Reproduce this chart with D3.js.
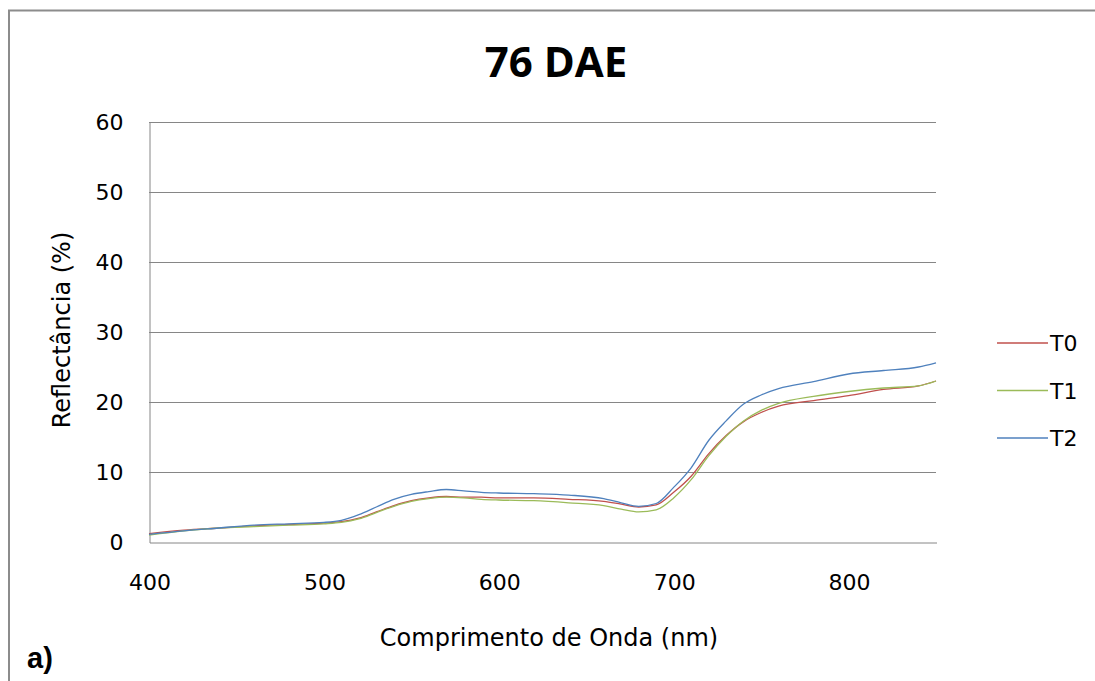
<!DOCTYPE html>
<html><head><meta charset="utf-8">
<script src="https://cdn.jsdelivr.net/npm/d3@7"></script>
<style>body{margin:0;background:#fff;} svg{display:block;}</style>
</head><body>
<svg id="c" width="1095" height="681"></svg>
<script>
const wavelengths = [400,420,440,460,480,500,510,520,530,540,550,560,570,580,590,600,620,640,660,670,680,690,700,710,720,730,740,750,760,780,800,820,840,850];
const t0 = [1.2,1.7,2.0,2.3,2.5,2.7,2.9,3.4,4.3,5.2,5.9,6.3,6.5,6.4,6.4,6.3,6.3,6.1,5.8,5.4,5.0,5.3,7.1,9.4,12.6,15.2,17.2,18.5,19.4,20.2,20.9,21.8,22.3,23.0];
const t1 = [1.0,1.6,2.0,2.2,2.4,2.6,2.8,3.3,4.2,5.1,5.8,6.2,6.4,6.3,6.1,6.0,5.9,5.6,5.2,4.7,4.3,4.6,6.3,8.9,12.3,15.1,17.3,18.8,19.8,20.8,21.5,22.0,22.3,23.0];
const t2 = [1.1,1.6,2.0,2.4,2.6,2.8,3.1,3.9,5.0,6.1,6.8,7.2,7.5,7.3,7.1,7.0,6.9,6.7,6.2,5.6,5.1,5.5,7.8,10.6,14.5,17.3,19.7,21.0,21.9,22.9,24.0,24.5,25.0,25.6];
const seriesNames = ["T0","T1","T2"];
const seriesColors = ["#C0504D","#9BBB59","#4F81BD"];
const xTicks = [400,500,600,700,800];
const yTicks = [0,10,20,30,40,50,60];
const title = "76 DAE";
const xTitle = "Comprimento de Onda (nm)";
const yTitle = "Reflectância (%)";

const svg = d3.select("#c");
const L=149, R=936, T=122, B=542;
const x = d3.scaleLinear().domain([400,850]).range([L,R]);
const y = d3.scaleLinear().domain([0,60]).range([B,T]);
const gray = "#868686";
const font = "'DejaVu Sans', sans-serif";

// outer frame
svg.append("path").attr("d","M9,681 V10.5 H1095").attr("fill","none").attr("stroke","#8c8c8c").attr("stroke-width",2);

// gridlines
svg.append("g").selectAll("line").data(yTicks.filter(d=>d>0)).join("line")
  .attr("x1",L).attr("x2",R).attr("y1",d=>y(d)+0.5).attr("y2",d=>y(d)+0.5)
  .attr("stroke",gray).attr("stroke-width",1);

// y axis
const ya = svg.append("g").attr("transform",`translate(${L+0.5},0.5)`)
  .call(d3.axisLeft(y).tickValues(yTicks).tickSize(0).tickPadding(26));
ya.select(".domain").attr("stroke",gray);
ya.selectAll("text").attr("font-family",font).attr("font-size",22).attr("fill","#000");

// x axis
const xa = svg.append("g").attr("transform",`translate(0.5,${B+0.5})`)
  .call(d3.axisBottom(x).tickValues(xTicks).tickSize(0).tickPadding(32));
xa.select(".domain").attr("stroke",gray);
xa.selectAll("text").attr("font-family",font).attr("font-size",22).attr("fill","#000");

// lines
const data = [t0,t1,t2];
const line = d3.line().x((d,i)=>x(wavelengths[i])).y(d=>y(d)).curve(d3.curveMonotoneX);
svg.append("g").selectAll("path").data(data).join("path")
  .attr("d",line).attr("fill","none")
  .attr("stroke",(d,i)=>seriesColors[i]).attr("stroke-width",1.3);

// title
svg.append("text").attr("x",556).attr("y",77).attr("text-anchor","middle")
  .attr("font-family","'Open Sans', sans-serif").attr("font-weight","bold").attr("font-size",42).text(title);

// axis titles
svg.append("text").attr("x",549).attr("y",646).attr("text-anchor","middle")
  .attr("font-family",font).attr("font-size",24).text(xTitle);
svg.append("text").attr("transform","translate(70,330) rotate(-90)").attr("text-anchor","middle")
  .attr("font-family",font).attr("font-size",24).text(yTitle);

// legend
const lg = svg.append("g").selectAll("g").data(seriesNames).join("g")
  .attr("transform",(d,i)=>`translate(997,${343+i*47.5})`);
lg.append("line").attr("x1",0).attr("x2",51).attr("stroke",(d,i)=>seriesColors[i]).attr("stroke-width",1.3);
lg.append("text").attr("x",53).attr("y",8).attr("font-family",font).attr("font-size",22).text(d=>d);

// panel label
svg.append("text").attr("x",27).attr("y",668).attr("font-family","'Liberation Sans', Arial, sans-serif")
  .attr("font-weight","bold").attr("font-size",29).text("a)");
</script>
</body></html>
